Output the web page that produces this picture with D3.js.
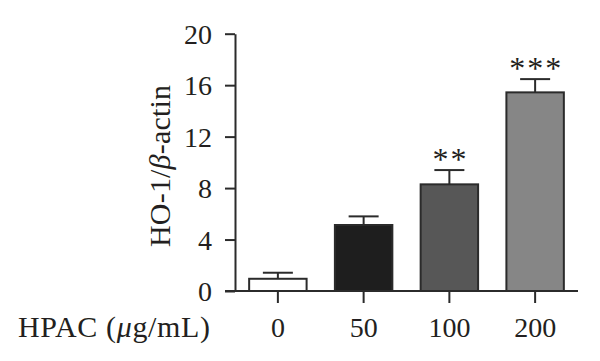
<!DOCTYPE html>
<html>
<head>
<meta charset="utf-8">
<script src="https://cdn.jsdelivr.net/npm/d3@7"></script>
<style>
  body { margin: 0; background: #fff; }
</style>
</head>
<body>
<div id="chart"></div>
<script>
// Data
const doses = ["0", "50", "100", "200"];
const means = [0.95, 5.13, 8.29, 15.44];
const errs = [0.47, 0.67, 1.11, 1.03];
const stars = ["", "", "**", "***"];
const fills = ["#ffffff", "#1e1e1e", "#575757", "#868686"];
const yTicks = [0, 4, 8, 12, 16, 20];

const width = 600, height = 361;
const ink = "#2b2b2b";
const font = "Liberation Serif";
const fs = 28;

let svg = d3.select("#chart").append("svg")
    .attr("width", width)
    .attr("height", height);

// Scales
let x = d3.scaleBand()
    .domain(doses)
    .range([235, 578])
    .paddingInner(0.33)
    .paddingOuter(0.165);

let y = d3.scaleLinear()
    .domain([0, 20])
    .range([291, 33.7]);

// y axis
let yAxisEl = svg.append("g")
    .attr("transform", "translate(235,0)")
    .call(d3.axisLeft(y).tickValues(yTicks).tickSize(10).tickPadding(13).tickSizeOuter(0));

yAxisEl.select(".domain").attr("stroke", ink).attr("stroke-width", 2);
yAxisEl.selectAll(".tick line").attr("stroke", ink).attr("stroke-width", 2);
yAxisEl.selectAll(".tick text")
    .style("font-family", font)
    .style("font-size", fs + "px")
    .attr("fill", "#231f20")
    .attr("dy", "0.34em");

// Bars
svg.append("g")
    .selectAll("rect")
    .data(doses)
    .join("rect")
    .attr("x", d => x(d))
    .attr("width", x.bandwidth())
    .attr("y", (d, i) => y(means[i]))
    .attr("height", (d, i) => y(0) - y(means[i]))
    .attr("fill", (d, i) => fills[i])
    .attr("stroke", ink)
    .attr("stroke-width", 2);

// Error bars (upper only)
let eb = svg.append("g")
    .attr("stroke", ink)
    .attr("stroke-width", 2);
doses.forEach((d, i) => {
    const cx = x(d) + x.bandwidth() / 2;
    eb.append("line")
        .attr("x1", cx).attr("x2", cx)
        .attr("y1", y(means[i])).attr("y2", y(means[i] + errs[i]));
    eb.append("line")
        .attr("x1", cx - 15).attr("x2", cx + 15)
        .attr("y1", y(means[i] + errs[i])).attr("y2", y(means[i] + errs[i]));
});

// Significance stars
svg.append("g")
    .selectAll("text")
    .data(doses)
    .join("text")
    .attr("x", d => x(d) + x.bandwidth() / 2 + 1)
    .attr("y", (d, i) => y(means[i] + errs[i]))
    .attr("text-anchor", "middle")
    .style("font-family", font)
    .style("font-size", "32px")
    .style("letter-spacing", "2px")
    .attr("fill", "#231f20")
    .text((d, i) => stars[i]);

// x axis
let xAxisEl = svg.append("g")
    .attr("transform", "translate(0,291)")
    .call(d3.axisBottom(x).tickSize(12).tickPadding(14).tickSizeOuter(0));

xAxisEl.select(".domain").attr("stroke", ink).attr("stroke-width", 2)
    .attr("d", "M225,0H578");
xAxisEl.selectAll(".tick line").attr("stroke", ink).attr("stroke-width", 2);
xAxisEl.selectAll(".tick text")
    .style("font-family", font)
    .style("font-size", fs + "px")
    .attr("fill", "#231f20");

// Axis titles
svg.append("text")
    .attr("x", 18)
    .attr("y", 337)
    .style("font-family", font)
    .style("font-size", "30px")
    .attr("fill", "#231f20")
    .attr("textLength", 192)
    .html('HPAC (<tspan font-style="italic">μ</tspan>g/mL)');

svg.append("text")
    .attr("transform", "translate(170,166) rotate(-90)")
    .attr("text-anchor", "middle")
    .style("font-family", font)
    .style("font-size", "30px")
    .attr("fill", "#231f20")
    .attr("textLength", 162)
    .html('HO-1/<tspan font-style="italic">β</tspan>-actin');
</script>
</body>
</html>
